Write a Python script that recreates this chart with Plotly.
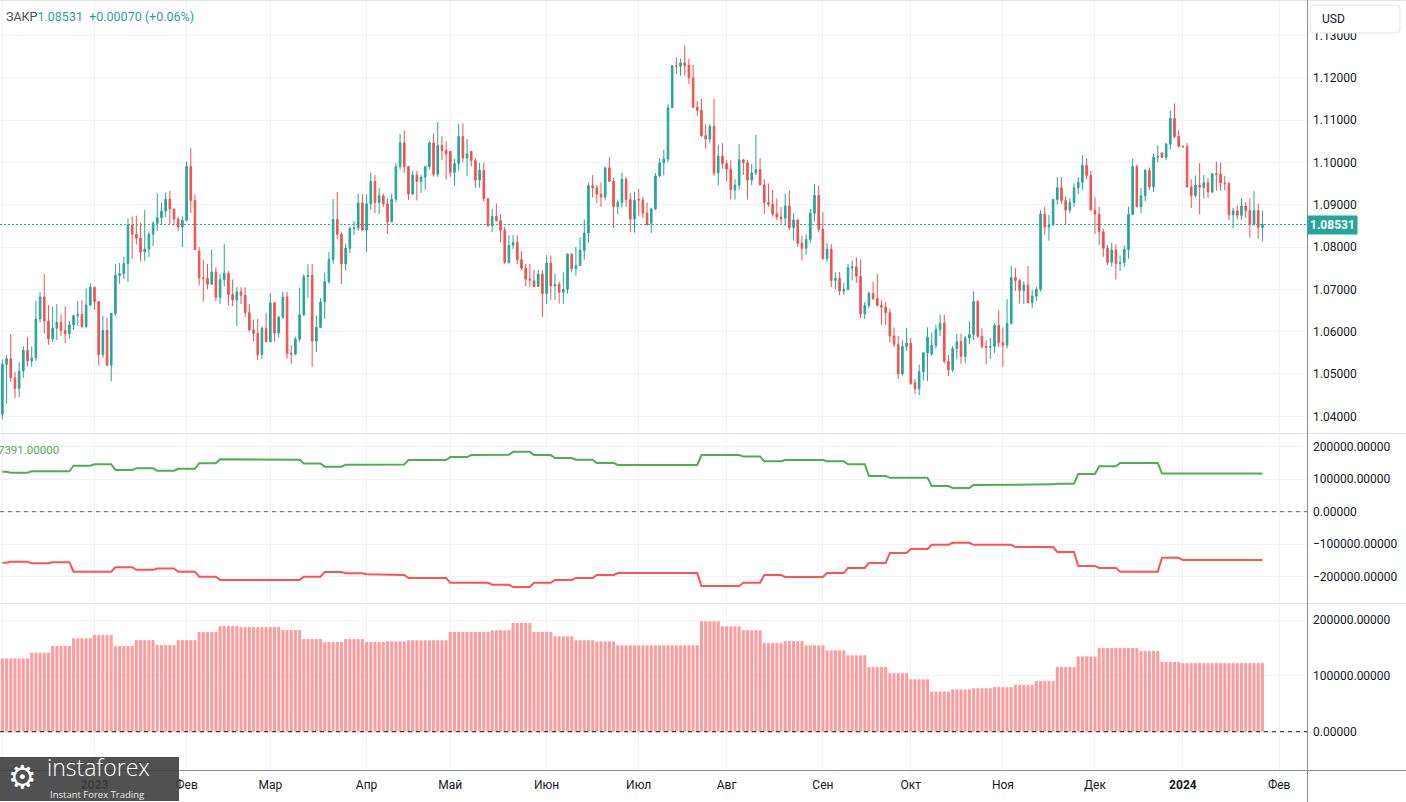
import numpy as np
import pandas as pd
import plotly.graph_objects as go

W, H = 1406, 802

# ---------------- EUR/USD daily candles (Dec 1 2022 .. Jan 26 2024) ----------------
opens = [
1.0405,1.0523,1.0536,1.0491,1.0466,1.0507,1.0556,1.0531,1.0538,1.0630,1.0682,1.0625,1.0583,1.0608,1.0622,1.0603,1.0595,1.0616,1.0638,1.0641,1.0612,1.0663,
1.0705,1.0671,1.0546,1.0603,1.0521,1.0643,1.0733,1.0737,1.0761,1.0852,1.0830,1.0821,1.0788,1.0795,1.0830,1.0856,1.0869,1.0885,1.0913,1.0890,1.0866,1.0847,
1.0863,1.0990,1.0910,1.0790,1.0727,1.0726,1.0712,1.0741,1.0681,1.0723,1.0738,1.0688,1.0675,1.0694,1.0686,1.0645,1.0604,1.0596,1.0546,1.0608,
1.0576,1.0668,1.0597,1.0634,1.0682,1.0549,1.0547,1.0582,1.0640,1.0730,1.0733,1.0578,1.0610,1.0670,1.0718,1.0770,1.0865,1.0830,1.0760,1.0797,1.0844,1.0845,1.0904,
1.0840,1.0902,1.0955,1.0905,1.0921,1.0902,1.0860,1.0913,1.0990,1.1046,1.0990,1.0925,1.0970,1.0955,1.0965,1.0990,1.1046,1.0972,1.1040,1.1028,
1.1026,1.0976,1.0997,1.1061,1.1010,1.1026,1.1004,1.0958,1.0981,1.0914,1.0850,1.0872,1.0862,1.0840,1.0764,1.0804,1.0811,1.0770,1.0750,1.0724,1.0720,1.0707,1.0736,
1.0690,1.0762,1.0708,1.0712,1.0693,1.0700,1.0783,1.0749,1.0756,1.0792,1.0833,1.0945,1.0940,1.0925,1.0918,1.0987,1.0955,1.0895,1.0905,1.0960,1.0912,1.0866,
1.0913,1.0911,1.0880,1.0856,1.0890,1.0968,1.0999,1.1008,1.1129,1.1228,1.1227,1.1235,1.1229,1.1200,1.1130,1.1123,1.1063,1.1055,1.1085,1.0975,1.1015,
1.0997,1.0984,1.0935,1.0946,1.1006,1.0999,1.0958,1.0975,1.0983,1.0947,1.0905,1.0901,1.0878,1.0871,1.0868,1.0897,1.0846,1.0864,1.0809,1.0797,1.0818,1.0880,1.0922,
1.0842,1.0773,1.0795,1.0721,1.0726,1.0696,1.0700,1.0751,1.0753,1.0731,1.0642,1.0662,1.0690,1.0678,1.0662,1.0658,1.0645,1.0590,1.0570,1.0500,1.0565,
1.0573,1.0479,1.0465,1.0505,1.0550,1.0547,1.0568,1.0605,1.0620,1.0530,1.0510,1.0560,1.0576,1.0542,1.0585,1.0593,1.0671,1.0589,1.0565,1.0563,1.0565,1.0615,
1.0574,1.0568,1.0620,1.0728,1.0721,1.0697,1.0710,1.0668,1.0684,1.0700,1.0878,1.0847,1.0852,1.0912,1.0940,1.0910,1.0887,1.0905,1.0940,1.0953,1.0993,1.0969,
1.0887,1.0878,1.0836,1.0797,1.0764,1.0793,1.0761,1.0763,1.0794,1.0877,1.0990,1.0895,1.0921,1.0981,1.0942,1.1012,1.1022,1.1012,1.1043,1.1104,1.1061,
1.1038,1.1037,1.0942,1.0922,1.0946,1.0941,1.0952,1.0930,1.0973,1.0972,1.0951,1.0950,1.0876,1.0885,1.0875,1.0897,1.0886,1.0854,1.0886,1.08461]
highs = [
1.0534,1.0545,1.0595,1.0505,1.0528,1.0565,1.0588,1.0565,1.0673,1.0694,1.0736,1.0663,1.0659,1.0665,1.0641,1.0660,1.0625,1.0640,1.0672,1.0674,1.0702,1.0714,
1.0705,1.0671,1.0638,1.0633,1.0645,1.0760,1.0762,1.0777,1.0868,1.0872,1.0874,1.0857,1.0887,1.0835,1.0861,1.0927,1.0905,1.0929,1.0932,1.0890,1.0872,1.0872,
1.1002,1.1034,1.0925,1.0800,1.0770,1.0760,1.0794,1.0752,1.0736,1.0807,1.0743,1.0723,1.0705,1.0705,1.0705,1.0665,1.0628,1.0630,1.0612,1.0645,
1.0691,1.0671,1.0637,1.0695,1.0694,1.0568,1.0588,1.0704,1.0736,1.0759,1.0760,1.0638,1.0679,1.0740,1.0788,1.0913,1.0930,1.0835,1.0808,1.0848,1.0862,1.0926,1.0925,
1.0925,1.0976,1.0970,1.0940,1.0926,1.0915,1.0926,1.0998,1.1067,1.1075,1.0990,1.0980,1.0980,1.0970,1.0990,1.1051,1.1068,1.1095,1.1062,1.1050,
1.1027,1.1008,1.1091,1.1092,1.1055,1.1026,1.1010,1.0999,1.0999,1.0915,1.0890,1.0903,1.0877,1.0848,1.0828,1.0828,1.0828,1.0790,1.0760,1.0760,1.0746,1.0746,1.0745,
1.0780,1.0780,1.0737,1.0718,1.0740,1.0785,1.0785,1.0800,1.0823,1.0865,1.0952,1.0970,1.0947,1.0953,1.0990,1.1012,1.0963,1.0912,1.0976,1.0966,1.0927,1.0930,
1.0937,1.0918,1.0905,1.0893,1.0975,1.1010,1.1030,1.1137,1.1230,1.1248,1.1245,1.1276,1.1245,1.1230,1.1145,1.1150,1.1090,1.1090,1.1150,1.1042,1.1045,
1.1005,1.1005,1.0960,1.1043,1.1008,1.1005,1.0996,1.1065,1.1010,1.0960,1.0950,1.0935,1.0915,1.0894,1.0926,1.0933,1.0880,1.0865,1.0827,1.0830,1.0890,1.0949,1.0945,
1.0882,1.0810,1.0807,1.0740,1.0741,1.0715,1.0760,1.0768,1.0775,1.0770,1.0670,1.0695,1.0718,1.0736,1.0674,1.0670,1.0654,1.0610,1.0590,1.0580,1.0609,
1.0585,1.0488,1.0522,1.0552,1.0610,1.0598,1.0617,1.0640,1.0640,1.0545,1.0566,1.0595,1.0595,1.0590,1.0625,1.0695,1.0675,1.0608,1.0580,1.0585,1.0620,1.0650,
1.0610,1.0677,1.0756,1.0750,1.0724,1.0719,1.0755,1.0700,1.0706,1.0887,1.0895,1.0876,1.0914,1.0965,1.0965,1.0920,1.0915,1.0950,1.0965,1.1017,1.1010,1.0980,
1.0917,1.0895,1.0843,1.0805,1.0810,1.0807,1.0780,1.0804,1.0895,1.1009,1.0995,1.0940,1.0985,1.0988,1.1020,1.1040,1.1024,1.1046,1.1122,1.1139,1.1076,
1.1040,1.1046,1.0960,1.0969,1.0998,1.0970,1.0963,1.0975,1.1002,1.0999,1.0968,1.0953,1.0893,1.0898,1.0915,1.0906,1.0915,1.0932,1.0902,1.0885]
lows = [
1.0393,1.0430,1.0481,1.0443,1.0445,1.0491,1.0518,1.0518,1.0531,1.0621,1.0595,1.0569,1.0575,1.0580,1.0590,1.0573,1.0583,1.0604,1.0614,1.0609,1.0608,1.0660,
1.0652,1.0520,1.0538,1.0518,1.0483,1.0637,1.0713,1.0725,1.0717,1.0772,1.0806,1.0766,1.0767,1.0776,1.0802,1.0838,1.0852,1.0871,1.0854,1.0850,1.0837,1.0800,
1.0860,1.0880,1.0793,1.0709,1.0671,1.0700,1.0712,1.0672,1.0665,1.0706,1.0662,1.0660,1.0613,1.0665,1.0635,1.0600,1.0577,1.0533,1.0535,1.0575,
1.0575,1.0577,1.0586,1.0630,1.0537,1.0524,1.0544,1.0576,1.0636,1.0680,1.0516,1.0552,1.0610,1.0630,1.0713,1.0760,1.0818,1.0713,1.0744,1.0786,1.0828,1.0839,1.0838,
1.0788,1.0888,1.0880,1.0878,1.0895,1.0831,1.0858,1.0905,1.0983,1.0975,1.0911,1.0923,1.0910,1.0928,1.0935,1.0983,1.0966,1.0966,1.1005,1.0960,
1.0966,1.0945,1.0980,1.1000,1.0967,1.0990,1.0940,1.0940,1.0907,1.0848,1.0835,1.0860,1.0811,1.0760,1.0760,1.0795,1.0760,1.0745,1.0707,1.0706,1.0705,1.0705,1.0635,
1.0665,1.0675,1.0675,1.0666,1.0666,1.0690,1.0740,1.0732,1.0755,1.0770,1.0810,1.0917,1.0904,1.0895,1.0910,1.0972,1.0845,1.0877,1.0893,1.0895,1.0835,1.0834,
1.0874,1.0868,1.0850,1.0833,1.0887,1.0965,1.0970,1.1000,1.1128,1.1209,1.1205,1.1205,1.1185,1.1130,1.1110,1.1060,1.1032,1.1045,1.0968,1.0945,1.0985,
1.0955,1.0912,1.0912,1.0935,1.0970,1.0912,1.0946,1.0970,1.0945,1.0877,1.0895,1.0872,1.0863,1.0855,1.0850,1.0840,1.0815,1.0800,1.0768,1.0782,1.0810,1.0860,1.0835,
1.0770,1.0765,1.0705,1.0700,1.0686,1.0687,1.0698,1.0721,1.0715,1.0632,1.0630,1.0655,1.0675,1.0660,1.0616,1.0616,1.0574,1.0563,1.0488,1.0496,1.0555,
1.0475,1.0453,1.0450,1.0485,1.0483,1.0543,1.0560,1.0590,1.0525,1.0495,1.0505,1.0534,1.0523,1.0525,1.0570,1.0580,1.0585,1.0560,1.0523,1.0535,1.0550,1.0563,
1.0517,1.0560,1.0616,1.0696,1.0666,1.0665,1.0667,1.0656,1.0672,1.0695,1.0828,1.0815,1.0850,1.0900,1.0902,1.0852,1.0880,1.0895,1.0925,1.0935,1.0960,1.0885,
1.0831,1.0805,1.0777,1.0757,1.0754,1.0723,1.0743,1.0753,1.0772,1.0875,1.0895,1.0880,1.0908,1.0934,1.0930,1.1000,1.1010,1.1005,1.1030,1.1057,1.1034,
1.1034,1.0940,1.0892,1.0917,1.0877,1.0915,1.0916,1.0927,1.0933,1.0933,1.0934,1.0863,1.0844,1.0865,1.0864,1.0869,1.0822,1.0850,1.0820,1.0814]
closes = [
1.0523,1.0536,1.0491,1.0466,1.0507,1.0556,1.0531,1.0538,1.0630,1.0682,1.0625,1.0583,1.0608,1.0622,1.0603,1.0595,1.0616,1.0638,1.0641,1.0612,1.0663,1.0705,
1.0671,1.0546,1.0603,1.0521,1.0643,1.0733,1.0737,1.0761,1.0852,1.0830,1.0821,1.0788,1.0795,1.0830,1.0856,1.0869,1.0885,1.0913,1.0890,1.0866,1.0847,1.0863,
1.0990,1.0910,1.0794,1.0727,1.0726,1.0712,1.0741,1.0681,1.0723,1.0738,1.0688,1.0675,1.0694,1.0686,1.0645,1.0604,1.0596,1.0546,1.0608,1.0576,
1.0668,1.0597,1.0634,1.0682,1.0549,1.0547,1.0582,1.0640,1.0730,1.0733,1.0578,1.0610,1.0670,1.0718,1.0770,1.0865,1.0830,1.0760,1.0797,1.0844,1.0845,1.0904,1.0840,
1.0902,1.0955,1.0905,1.0921,1.0902,1.0860,1.0913,1.0990,1.1046,1.0990,1.0925,1.0970,1.0955,1.0965,1.0990,1.1046,1.0972,1.1040,1.1028,1.1020,
1.0976,1.0997,1.1061,1.1010,1.1020,1.1004,1.0958,1.0981,1.0914,1.0850,1.0872,1.0862,1.0840,1.0764,1.0804,1.0811,1.0770,1.0750,1.0724,1.0722,1.0707,1.0736,1.0690,
1.0762,1.0708,1.0712,1.0693,1.0700,1.0783,1.0749,1.0756,1.0792,1.0833,1.0945,1.0940,1.0925,1.0918,1.0987,1.0955,1.0895,1.0905,1.0960,1.0912,1.0866,1.0910,
1.0911,1.0880,1.0853,1.0890,1.0968,1.0999,1.1008,1.1129,1.1228,1.1227,1.1235,1.1229,1.1200,1.1130,1.1123,1.1063,1.1055,1.1085,1.0975,1.1015,1.0997,
1.0984,1.0935,1.0946,1.1006,1.0999,1.0958,1.0975,1.0983,1.0947,1.0905,1.0901,1.0878,1.0871,1.0867,1.0897,1.0846,1.0864,1.0809,1.0797,1.0818,1.0880,1.0922,1.0842,
1.0773,1.0795,1.0721,1.0726,1.0696,1.0700,1.0751,1.0753,1.0731,1.0642,1.0662,1.0690,1.0678,1.0662,1.0658,1.0645,1.0590,1.0570,1.0500,1.0565,1.0573,
1.0477,1.0465,1.0505,1.0550,1.0587,1.0568,1.0605,1.0620,1.0530,1.0510,1.0560,1.0576,1.0542,1.0585,1.0593,1.0671,1.0589,1.0565,1.0563,1.0565,1.0615,1.0574,
1.0568,1.0620,1.0728,1.0721,1.0697,1.0710,1.0668,1.0684,1.0700,1.0878,1.0847,1.0852,1.0912,1.0940,1.0910,1.0887,1.0905,1.0940,1.0953,1.0993,1.0969,1.0888,
1.0878,1.0836,1.0797,1.0764,1.0793,1.0761,1.0763,1.0794,1.0877,1.0990,1.0895,1.0921,1.0981,1.0942,1.1012,1.1014,1.1012,1.1043,1.1104,1.1061,1.1038,
1.1037,1.0942,1.0922,1.0946,1.0941,1.0952,1.0930,1.0973,1.0972,1.0951,1.0950,1.0876,1.0885,1.0875,1.0897,1.0886,1.0854,1.0886,1.08461,1.08531]

# ---------------- weekly COT-style series (thousands), weeks starting 2022-11-28 ----------------
longs_k = [123,120,124,124,141.5,146,128,133.5,126,132,149,161.5,161.5,161.5,160,148,138.5,144.6,143.7,
           145,159,159,168,174,175,184,174,165,160,150,143.7,143.7,143.7,143.7,174,174,170,155,159,159,155,146,
           110,104,104,79,73,82,82,82,84,86,116,140,150,150,117.391,117.391,117.391,117.391,117.391]
shorts_k = [-157,-154,-159,-156,-184.6,-184.6,-171,-179,-175,-184.6,-200,-210,-210,-212,-210,-200,-185.5,-189.6,-192.7,
            -195,-204,-204,-219,-219,-225,-232,-219,-210,-204,-195,-189,-189,-189,-189,-229,-229,-219,-195,-201,-201,-189,-173,
            -158,-127,-115,-102,-96,-102,-102,-109,-109,-124,-167,-173,-185,-185,-142,-149,-149,-149,-149]
hist_k = [131.5,131.5,141.6,153.6,167.4,173.3,153.6,164.3,155.4,164.3,178.7,189.4,187.6,187.6,182.3,166.1,160.8,166.1,160.8,
          162,164,164,179,179,182,195,179,171,164,162,155,155,155,155,198,189,182,159,162.5,155,146,137,
          116,105,94,72,76,78,80,84,91,116,135,150,150,144.6,125,123,123,123,123]

ru_months = {1: "Янв", 2: "Фев", 3: "Мар", 4: "Апр", 5: "Май", 6: "Июн", 7: "Июл",
             8: "Авг", 9: "Сен", 10: "Окт", 11: "Ноя", 12: "Дек"}

dates = pd.bdate_range("2022-12-01", "2024-01-26")
n = len(dates)
assert n == len(closes) == len(opens) == len(highs) == len(lows)
idx = np.arange(n)

week0 = pd.Timestamp("2022-11-28")
week_of = ((dates - week0).days // 7).to_numpy()
longs_d = [longs_k[w] * 1000 for w in week_of]
shorts_d = [shorts_k[w] * 1000 for w in week_of]
hist_d = [hist_k[w] * 1000 for w in week_of]

# month ticks from the extended business-day calendar
cal = pd.bdate_range("2022-12-01", "2024-02-29")
tick_idx, tick_txt, prev = [], [], None
for i, d in enumerate(cal):
    key = (d.year, d.month)
    if key != prev:
        tick_idx.append(i)
        tick_txt.append(f"<b>{d.year}</b>" if d.month == 1 else ru_months[d.month])
        prev = key

XR = [-0.573, 311.65]
XD = 1307 / W
YSH = 0.000236
def py(y):
    return 1 - y / H
def px(x):
    return x / W

FONT = "Roboto"
GRID = "#f0f3fa"
TXT = "#131722"

fig = go.Figure()
fig.add_trace(go.Candlestick(
    x=idx, open=opens, high=highs, low=lows, close=closes,
    increasing=dict(line=dict(color="#26a69a", width=1), fillcolor="#26a69a"),
    decreasing=dict(line=dict(color="#ef5350", width=1), fillcolor="#ef5350"),
    whiskerwidth=0, xaxis="x", yaxis="y", showlegend=False, hoverinfo="skip"))
fig.add_trace(go.Scatter(x=idx, y=longs_d, mode="lines", line=dict(color="#4caf50", width=2),
                         xaxis="x2", yaxis="y2", showlegend=False, hoverinfo="skip"))
fig.add_trace(go.Scatter(x=idx, y=shorts_d, mode="lines", line=dict(color="#ff5252", width=2),
                         xaxis="x2", yaxis="y2", showlegend=False, hoverinfo="skip"))
fig.add_trace(go.Bar(x=idx, y=hist_d, marker=dict(color="#ff9b9b", line=dict(width=0)),
                     xaxis="x3", yaxis="y3", showlegend=False, hoverinfo="skip"))

xcommon = dict(range=XR, domain=[0, XD], tickvals=tick_idx, showgrid=True, gridcolor=GRID,
               zeroline=False, showline=False, ticks="", fixedrange=True)
fig.update_layout(
    width=W, height=H, margin=dict(l=0, r=0, t=0, b=0),
    paper_bgcolor="white", plot_bgcolor="white",
    font=dict(family=FONT, size=12, color=TXT),
    boxgap=0.45, bargap=0.28,
    xaxis=dict(**xcommon, anchor="y", showticklabels=False, rangeslider=dict(visible=False)),
    xaxis2=dict(**xcommon, anchor="y2", showticklabels=False, matches="x"),
    xaxis3=dict(**xcommon, anchor="y3", showticklabels=True, ticktext=tick_txt, matches="x",
                tickfont=dict(family=FONT, size=12, color=TXT), ticklabelstandoff=6),
    yaxis=dict(domain=[py(432), 1], range=[1.03653 - YSH, 1.13859 - YSH], side="right", anchor="x",
               tickvals=[1.04 + 0.01 * k for k in range(10)],
               ticktext=[f"{1.04 + 0.01 * k:.5f}" for k in range(10)],
               showgrid=True, gridcolor=GRID, zeroline=False, ticks="", ticklabelstandoff=5,
               tickfont=dict(family=FONT, size=12, color=TXT)),
    yaxis2=dict(domain=[py(602), py(434)], range=[-278000, 239000], side="right", anchor="x2",
                tickvals=[200000, 100000, 0, -100000, -200000],
                ticktext=["200000.00000", "100000.00000", "0.00000", "\u2212100000.00000", "\u2212200000.00000"],
                showgrid=True, gridcolor=GRID, zeroline=False, ticks="", ticklabelstandoff=5,
                tickfont=dict(family=FONT, size=12, color=TXT)),
    yaxis3=dict(domain=[py(770), py(604)], range=[-68600, 229000], side="right", anchor="x3",
                tickvals=[200000, 100000, 0],
                ticktext=["200000.00000", "100000.00000", "0.00000"],
                showgrid=True, gridcolor=GRID, zeroline=False, ticks="", ticklabelstandoff=5,
                tickfont=dict(family=FONT, size=12, color=TXT)),
)

shapes = []
# last price dotted line
shapes.append(dict(type="line", xref="paper", yref="y", x0=0, x1=XD, y0=closes[-1], y1=closes[-1],
                   line=dict(color="#26a69a", width=1, dash="2px,2px"), layer="below"))
# zero dashed lines in the lower panes
shapes.append(dict(type="line", xref="paper", yref="y2", x0=0, x1=XD, y0=0, y1=0,
                   line=dict(color="#666666", width=1, dash="4px,4px")))
shapes.append(dict(type="line", xref="paper", yref="y3", x0=0, x1=XD, y0=0, y1=0,
                   line=dict(color="#111111", width=1, dash="4px,4px")))
# pane separators and borders
for yy in (0.5, 433.5, 603.5):
    shapes.append(dict(type="line", xref="paper", yref="paper", x0=0, x1=1, y0=py(yy), y1=py(yy),
                       line=dict(color="#e0e3eb", width=1)))
shapes.append(dict(type="line", xref="paper", yref="paper", x0=0, x1=1, y0=py(770.5), y1=py(770.5),
                   line=dict(color="#8a8d96", width=1)))
shapes.append(dict(type="line", xref="paper", yref="paper", x0=px(1307.5), x1=px(1307.5), y0=0, y1=1,
                   line=dict(color="#8a8d96", width=1)))
# USD box (rounded)
def rrect(x0, y0, x1, y1, r):
    X0, X1 = px(x0), px(x1)
    Y0, Y1 = py(y0), py(y1)
    rx, ry = r / W, r / H
    return (f"M {X0+rx},{Y0} L {X1-rx},{Y0} Q {X1},{Y0} {X1},{Y0-ry} L {X1},{Y1+ry} "
            f"Q {X1},{Y1} {X1-rx},{Y1} L {X0+rx},{Y1} Q {X0},{Y1} {X0},{Y1+ry} L {X0},{Y0-ry} "
            f"Q {X0},{Y0} {X0+rx},{Y0} Z")
shapes.append(dict(type="path", xref="paper", yref="paper", path=rrect(1310, 5, 1400, 33, 4),
                   fillcolor="white", line=dict(color="#e0e3eb", width=1), layer="above"))
# logo box
shapes.append(dict(type="rect", xref="paper", yref="paper", x0=0, x1=px(179), y0=py(801), y1=py(757),
                   fillcolor="rgba(62,62,62,0.9)", line=dict(width=0), layer="above"))
fig.update_layout(shapes=shapes)

ann = []
ann.append(dict(xref="paper", yref="y", x=px(1307), y=closes[-1], xanchor="left", yanchor="middle",
                text=f"<b>{closes[-1]:.5f}</b>", showarrow=False, bgcolor="#26a69a", borderpad=2,
                font=dict(family=FONT, size=12, color="white")))
ann.append(dict(xref="paper", yref="paper", x=px(1320), y=py(19), xanchor="left", yanchor="middle",
                text="USD", showarrow=False, font=dict(family=FONT, size=12, color=TXT)))
chg = closes[-1] - closes[-2]
ann.append(dict(xref="paper", yref="paper", x=px(4), y=py(17), xanchor="left", yanchor="middle",
                text=(f'<span style="color:#4a4e59">ЗАКР</span><span style="color:#26a69a">{closes[-1]:.5f}'
                      f'&nbsp;&nbsp;+{chg:.5f} (+{chg / closes[-2] * 100:.2f}%)</span>'),
                showarrow=False, font=dict(family=FONT, size=12.5)))
ann.append(dict(xref="paper", yref="paper", x=px(61), y=py(450), xanchor="right", yanchor="middle",
                text=f"{longs_k[-1] * 1000:.5f}", showarrow=False,
                font=dict(family=FONT, size=11.5, color="#4caf50")))
# logo texts
ann.append(dict(xref="paper", yref="paper", x=px(23), y=py(777), xanchor="center", yanchor="middle",
                text="\u2699", showarrow=False, font=dict(family="DejaVu Sans", size=32, color="white")))
ann.append(dict(xref="paper", yref="paper", x=px(46), y=py(767), xanchor="left", yanchor="middle",
                text="instaforex", showarrow=False, borderpad=0,
                font=dict(family="Open Sans", size=23, color="white", weight=300)))
ann.append(dict(xref="paper", yref="paper", x=px(49), y=py(794), xanchor="left", yanchor="middle",
                text="Instant Forex Trading", showarrow=False, borderpad=0,
                font=dict(family="Open Sans", size=9.5, color="#e6e6e6")))
fig.update_layout(annotations=ann)

fig.write_html("out.html", config={"displayModeBar": False},
               post_script="document.body.style.margin='0';document.body.style.overflow='hidden';")
